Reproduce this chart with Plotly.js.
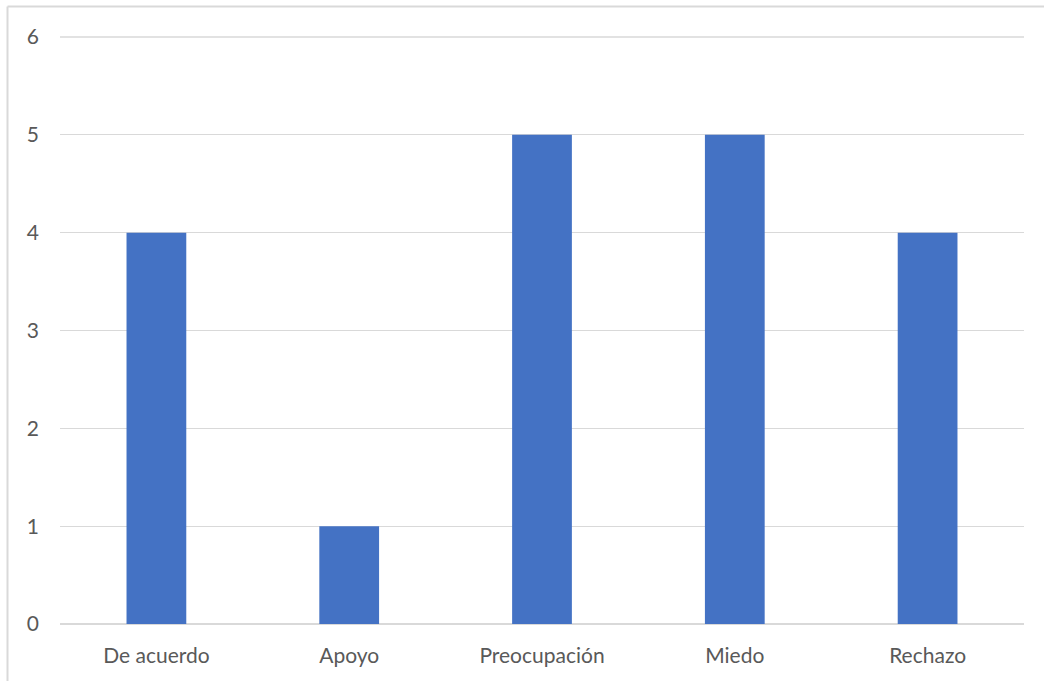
<!DOCTYPE html>
<html><head><meta charset="utf-8">
<script src="https://cdn.plot.ly/plotly-3.0.1.min.js"></script>
<style>html,body{margin:0;padding:0;background:#fff}#c{width:1044px;height:681px}</style>
</head><body><div id="c"></div>
<script>
const categories = ["De acuerdo", "Apoyo", "Preocupación", "Miedo", "Rechazo"];
const values = [4, 1, 5, 5, 4];
const yTicks = [0, 1, 2, 3, 4, 5, 6];

const L = 60, R = 20, T = 37, B = 57, W = 1044, H = 681;
const pw = W - L - R, ph = H - T - B;
const px = x => (x - L) / pw;
const py = y => (H - B - y) / ph;

Plotly.newPlot('c', [{
  type: 'bar', x: categories, y: values,
  marker: {color: '#4472C4'}, hoverinfo: 'none'
}], {
  width: W, height: H,
  margin: {l: L, r: R, t: T, b: B, pad: 0},
  paper_bgcolor: '#fff', plot_bgcolor: '#fff',
  bargap: 0.69,
  font: {family: 'Lato, "Open Sans", sans-serif', size: 21, color: '#595959'},
  xaxis: {showgrid: false, ticks: '', showline: false, zeroline: false, ticklabelstandoff: 17, fixedrange: true},
  yaxis: {range: [0, 6], tickvals: yTicks, showgrid: true, gridcolor: '#d9d9d9', gridwidth: 1.3,
          zeroline: true, zerolinecolor: '#d9d9d9', zerolinewidth: 1.3, ticks: '', showline: false,
          ticklabelstandoff: 20, fixedrange: true},
  shapes: [
    {type: 'line', xref: 'paper', yref: 'paper', x0: 0, x1: 1, y0: 1, y1: 1, line: {color: '#d9d9d9', width: 1.3}},
    {type: 'line', xref: 'paper', yref: 'paper', x0: px(7.5), x1: px(7.5), y0: py(6.5), y1: py(681), line: {color: '#d9d9d9', width: 2}},
    {type: 'line', xref: 'paper', yref: 'paper', x0: px(7.5), x1: px(1044), y0: py(6.5), y1: py(6.5), line: {color: '#d9d9d9', width: 2}}
  ],
  showlegend: false
}, {displayModeBar: false, staticPlot: true});
</script></body></html>
